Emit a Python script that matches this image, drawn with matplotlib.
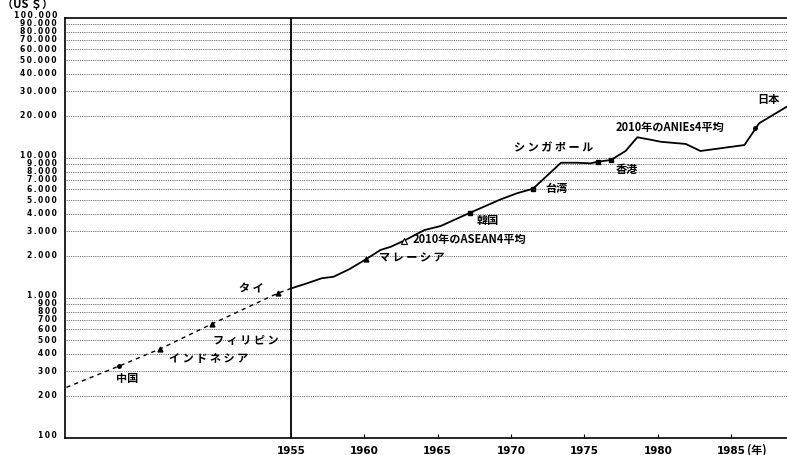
import matplotlib.pyplot as plt
from matplotlib.transforms import offset_copy

plt.rcParams['font.family'] = ['Noto Sans CJK JP', 'DejaVu Sans']

# dotted part: 2010 levels of each economy placed on Japan's path (US$)
pre_years = [1939.7, 1943.3, 1946.1, 1949.6, 1954.1, 1955.0]
pre_gdp = [230, 327, 434, 652, 1082, 1170]

# Japan per-capita GDP, 1955 onward (US$)
jp_years = [1955.0, 1956.1, 1957.1, 1957.9, 1959.0, 1960.1, 1961.1, 1961.8,
            1962.7, 1964.1, 1965.2, 1967.2, 1967.9, 1969.3, 1970.4, 1971.5,
            1973.4, 1974.5, 1975.4, 1975.9, 1976.8, 1977.8, 1978.6, 1979.6,
            1980.2, 1981.9, 1982.9, 1985.9, 1986.9, 1988.8]
jp_gdp = [1170, 1274, 1384, 1418, 1611, 1888, 2203, 2323,
          2565, 3060, 3267, 4063, 4373, 5070, 5600, 6040,
          9250, 9250, 9160, 9400, 9680, 11220, 14060, 13450,
          13060, 12600, 11220, 12380, 17700, 23300]

# where each economy sits on the curve
names = ['中国', 'インドネシア', 'フィリピン', 'タイ', 'マレーシア',
         '2010年のASEAN4平均', '韓国', '台湾', 'シンガポール', '香港',
         '2010年のANIEs4平均', '日本']
mark_years = [1943.3, 1946.1, 1949.6, 1954.1, 1960.1, 1962.7, 1967.2,
              1971.5, 1975.9, 1976.8, 1986.65, 1988.8]
mark_gdp = [327, 434, 652, 1082, 1888, 2565, 4063, 6040, 9400, 9680, 16300, 23300]
mark_style = ['o', '^', '^', '^', '^', 'open', 's', 's', 's', 's', 'o', None]

# label anchors (year, US$) and alignment
label_pos = [(1943.8, 264), (1949.4, 367), (1951.9, 501), (1952.3, 1159),
             (1963.25, 1931), (1963.3, 2636), (1968.4, 3606), (1973.1, 6010),
             (1972.9, 11780), (1977.9, 8340), (1977.1, 16380), (1987.5, 26370)]
label_ha = ['center', 'center', 'center', 'center', 'center', 'left',
            'center', 'center', 'center', 'center', 'left', 'center']

grid_vals = [m * 10 ** e for e in (2, 3, 4) for m in range(1, 10)][1:] + [100000]
year_ticks = [1955, 1960, 1965, 1970, 1975, 1980, 1985]


def spaced(s):
    # katakana names are set with loose tracking
    if all('\u30a0' <= c <= '\u30ff' for c in s):
        return ' '.join(s)
    return s


def tracked(s):
    # thin space between figures, like the old typewriter axis
    return '\u2009'.join(s)


fig = plt.figure(figsize=(7.87, 4.55), dpi=100)
ax = fig.add_axes([65 / 787, 17 / 455, 722 / 787, 420 / 455])
ax.set_yscale('log')
ax.set_xlim(1939.6, 1988.8)
ax.set_ylim(100, 100000)

for v in grid_vals[:-1]:
    ax.axhline(v, color='0.25', lw=0.6, ls=(0, (1, 1.2)), zorder=1)

ax.axvline(1955, color='black', lw=1.3, zorder=2)

ax.plot(pre_years, pre_gdp, color='black', lw=1.0, ls=(0, (3, 3)), zorder=3)
ax.plot(jp_years, jp_gdp, color='black', lw=1.3, zorder=3)

for x, y, m in zip(mark_years, mark_gdp, mark_style):
    if m is None:
        continue
    if m == 'open':
        ax.plot(x, y, marker='^', ms=4, mfc='white', mec='black', mew=0.8, zorder=4)
    elif m == 'o':
        ax.plot(x, y, marker=m, ms=2.5, color='black', zorder=4)
    else:
        ax.plot(x, y, marker=m, ms=3.5, color='black', zorder=4)

for name, (x, y), ha in zip(names, label_pos, label_ha):
    ax.text(x, y, spaced(name), ha=ha, va='center', fontsize=8,
            fontweight='bold', color='black', zorder=5)

# axes frame
ax.spines['right'].set_visible(False)
for side in ('left', 'bottom', 'top'):
    ax.spines[side].set_linewidth(1.2)

# value labels drawn by hand so the crowded ones near each decade can be nudged
ax.set_yticks([])
ax.minorticks_off()
ytrans = ax.get_yaxis_transform()
for v in [100] + grid_vals:
    lead = int(str(v)[0])
    up = {1: 2.5, 9: 1}.get(lead, 0)
    tr = offset_copy(ytrans, fig=fig, x=-8, y=up, units='dots')
    ax.text(0, v, tracked(f'{v:,}'.replace(',', '.')), transform=tr,
            ha='right', va='center', family='DejaVu Sans',
            fontweight='bold', fontsize=5.5)

ax.set_xticks(year_ticks)
ax.set_xticklabels([str(y) for y in year_ticks], family='DejaVu Sans',
                   fontweight='bold', fontsize=7.5)
ax.tick_params(axis='x', direction='in', length=3, width=0.8, pad=6)

fig.text(747 / 787, 1 - 450 / 455, '(年)', ha='left', va='center',
         fontsize=8, fontweight='bold')
fig.text(2 / 787, 1 - 5 / 455, '（US ＄）', ha='left', va='center',
         fontsize=8, fontweight='bold')

fig.savefig('out.png', dpi=100)
